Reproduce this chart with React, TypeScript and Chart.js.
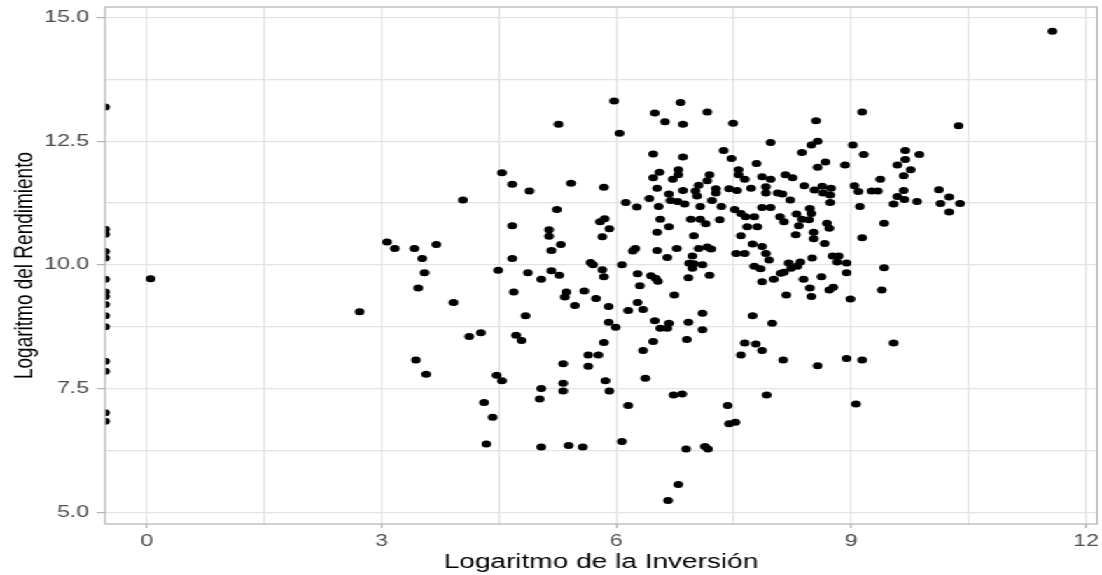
import React, { useEffect, useRef } from "react";
import { Chart, registerables } from "chart.js";

Chart.register(...registerables);

// Log of investment (x) and log of yield (y) for each project
const logInversion = [
  2.72, 3.07, 3.17, 3.42, 3.70, 3.52, 3.55, 3.47, 3.92, 4.04, 4.12, 4.27, 4.49, 4.54, 4.67, 4.89,
  4.67, 4.67, 4.69, 4.84, 4.72, 4.79, 4.87, 5.04, 5.17, 5.27, 5.24, 5.14, 5.14, 5.29, 5.17, 5.42,
  5.84, 5.79, 5.85, 5.91, 5.82, 5.67, 5.70, 5.82, 5.84, 5.36, 5.34, 5.59, 5.47, 5.74, 5.90, 5.90,
  5.84, 3.44, 3.57, 4.47, 4.54, 4.31, 4.42, 4.34, 5.04, 5.02, 5.04, 5.39, 5.57, 5.32, 5.32, 5.32,
  5.64, 5.77, 5.64, 5.86, 5.91, 5.26,
  5.97, 6.04, 6.49, 6.62, 6.82, 6.85, 7.16, 7.49, 6.47, 6.85, 7.37, 7.47, 7.79, 6.55, 6.47, 6.79,
  6.79, 6.72, 7.19, 7.16, 7.56, 7.56, 7.64, 6.52, 6.85, 7.05, 7.01, 7.27, 7.27, 7.44, 7.54, 7.72,
  6.67, 6.69, 6.42, 7.03, 7.22, 6.78, 6.87, 6.12, 6.26, 6.54, 7.07, 7.34, 7.51, 7.59, 7.65, 7.76,
  6.56, 6.67, 6.95, 7.07, 7.14, 7.32, 7.67, 7.80,
  6.52, 6.99, 7.59, 7.74, 6.24, 6.21, 6.52, 6.65, 6.77, 6.97, 7.05, 7.16, 7.21, 7.53, 7.64, 6.07,
  6.27, 6.30, 6.44, 6.50, 6.53, 6.74, 6.93, 6.97, 6.99, 7.10, 6.92, 7.19, 7.76, 7.84, 6.27, 6.15,
  6.34, 5.99, 6.49, 6.56, 6.65, 6.67, 6.92, 7.10, 7.10, 6.90, 6.47, 6.34, 7.74, 7.64, 7.78, 7.59,
  6.37, 6.15, 6.73, 6.84, 7.42, 7.44, 7.52, 6.07, 6.89, 7.13, 7.17, 6.79, 6.66,
  9.14, 8.55, 7.97, 8.57, 8.49, 9.02, 9.16, 8.37, 9.69, 9.69, 9.87, 9.59, 9.76, 9.67, 8.67, 8.57,
  8.92, 7.86, 7.97, 8.16, 8.25, 9.37, 10.12, 7.91, 7.91, 8.06, 8.12, 8.40, 8.53, 8.63, 8.64, 8.74,
  8.73, 9.04, 9.09, 9.26, 9.34, 9.67, 8.22, 8.73, 9.11, 9.54, 9.59, 9.68, 9.84, 10.14, 7.86, 7.97,
  8.09, 8.14, 8.30, 8.37, 8.47, 8.49, 8.46, 8.33, 8.69, 8.72, 9.42,
  9.14, 8.29, 8.52, 8.52, 8.66, 7.86, 7.91, 7.95, 8.20, 8.35, 8.23, 8.14, 8.31, 8.10, 8.50, 8.76,
  8.84, 8.82, 8.94, 8.94, 9.42, 8.01, 7.86, 8.39, 8.62, 8.47, 8.72, 8.77, 8.17, 8.49, 8.99, 9.39,
  7.99, 9.54, 7.86, 8.13, 8.57, 8.94, 9.14, 7.92, 9.06,
  11.57, 10.37, 10.25, 10.39, 10.25, 0.05,
];

const logRendimiento = [
  9.05, 10.46, 10.33, 10.33, 10.41, 10.13, 9.84, 9.53, 9.24, 11.31, 8.55, 8.63, 9.89, 11.86, 11.63, 11.49,
  10.79, 10.13, 9.45, 8.97, 8.58, 8.47, 9.84, 9.71, 9.88, 9.79, 11.12, 10.71, 10.58, 10.41, 10.29, 11.65,
  11.57, 10.87, 10.93, 10.73, 10.57, 10.05, 10.00, 9.90, 9.76, 9.45, 9.35, 9.47, 9.18, 9.32, 9.16, 8.84,
  8.43, 8.08, 7.79, 7.77, 7.66, 7.22, 6.92, 6.38, 7.50, 7.29, 6.32, 6.35, 6.32, 8.00, 7.61, 7.45,
  8.18, 8.18, 7.95, 7.66, 7.45, 12.84,
  13.31, 12.66, 13.07, 12.89, 13.28, 12.84, 13.09, 12.86, 12.24, 12.18, 12.31, 12.15, 12.05, 11.87, 11.76, 11.92,
  11.82, 11.73, 11.82, 11.70, 11.92, 11.82, 11.73, 11.55, 11.50, 11.61, 11.49, 11.54, 11.45, 11.54, 11.50, 11.55,
  11.43, 11.30, 11.34, 11.39, 11.30, 11.28, 11.23, 11.26, 11.17, 11.18, 11.18, 11.18, 11.12, 11.04, 10.97, 10.97,
  10.92, 10.77, 10.92, 10.92, 10.83, 10.91, 10.77, 10.77,
  10.66, 10.59, 10.59, 10.42, 10.33, 10.28, 10.29, 10.15, 10.33, 10.18, 10.33, 10.36, 10.32, 10.23, 10.23, 10.00,
  9.82, 9.58, 9.78, 9.73, 9.67, 9.39, 10.03, 9.93, 10.02, 10.00, 9.74, 9.79, 9.97, 9.92, 9.24, 9.08,
  9.10, 8.74, 8.87, 8.72, 8.72, 8.82, 8.84, 9.02, 8.69, 8.49, 8.45, 8.27, 8.97, 8.42, 8.40, 8.18,
  7.71, 7.16, 7.37, 7.39, 7.16, 6.79, 6.82, 6.43, 6.28, 6.33, 6.28, 5.56, 5.24,
  13.09, 12.91, 12.47, 12.50, 12.42, 12.42, 12.23, 12.27, 12.31, 12.13, 12.23, 12.02, 11.92, 11.80, 12.08, 11.97,
  12.02, 11.78, 11.73, 11.82, 11.76, 11.73, 11.52, 11.58, 11.45, 11.45, 11.43, 11.60, 11.51, 11.59, 11.45, 11.55,
  11.41, 11.60, 11.48, 11.49, 11.49, 11.50, 11.31, 11.26, 11.18, 11.23, 11.38, 11.32, 11.28, 11.24, 11.16, 11.16,
  10.97, 10.87, 11.03, 10.92, 11.14, 11.04, 10.91, 10.79, 10.84, 10.74, 10.84,
  10.55, 10.61, 10.66, 10.53, 10.43, 10.37, 10.23, 10.10, 10.04, 10.06, 9.93, 9.85, 9.97, 9.83, 10.14, 10.18,
  10.18, 10.06, 10.04, 9.84, 9.94, 9.71, 9.66, 9.71, 9.76, 9.53, 9.49, 9.55, 9.39, 9.36, 9.31, 9.49,
  8.82, 8.42, 8.27, 8.08, 7.96, 8.11, 8.08, 7.37, 7.19,
  14.72, 12.81, 11.37, 11.24, 11.07, 9.72,
];

// Projects with zero investment (log = -Inf): drawn on the left edge of the panel
const rendimientoSinInversion = [
  13.19, 10.72, 10.62, 10.27, 10.14, 9.71, 9.45, 9.36, 9.20, 8.97, 8.75, 8.05, 7.85, 7.01, 6.84,
];

const xBreaks = [0, 1.5, 3, 4.5, 6, 7.5, 9, 10.5, 12];
const xLabelled = [0, 3, 6, 9, 12];
const yBreaks = [5, 6.25, 7.5, 8.75, 10, 11.25, 12.5, 13.75, 15];
const yLabelled = [5, 7.5, 10, 12.5, 15];
const xLimits = [-0.532, 12.14];
const yLimits = [4.764, 15.21];

const xTitle = "Logaritmo de la Inversión";
const yTitle = "Logaritmo del Rendimiento";

const CANVAS_W = 787;
const CANVAS_H = 575;
const STRETCH = 1102 / CANVAS_W;

const FONT = "'Liberation Sans', Arial, sans-serif";

const panelFrame = {
  id: "panelFrame",
  afterDraw(chart: any) {
    const { ctx, chartArea: a } = chart;
    ctx.save();
    ctx.strokeStyle = "#b3b3b3";
    ctx.lineWidth = 1.2;
    ctx.strokeRect(a.left, a.top, a.right - a.left, a.bottom - a.top);
    ctx.restore();
  },
};

export default function App() {
  const canvasRef = useRef<HTMLCanvasElement>(null);

  useEffect(() => {
    if (!canvasRef.current) return;
    const points = logInversion.map((x, i) => ({ x, y: logRendimiento[i] }));
    const edgePoints = rendimientoSinInversion.map((y) => ({ x: xLimits[0], y }));

    const isMajor = (list: number[], v: number) => list.some((m) => Math.abs(m - v) < 1e-9);

    const chart = new Chart(canvasRef.current, {
      type: "scatter",
      data: {
        datasets: [
          {
            data: points,
            backgroundColor: "#000000",
            borderWidth: 0,
            pointRadius: 3.5,
            pointHoverRadius: 3.5,
          },
          {
            data: edgePoints,
            backgroundColor: "#000000",
            borderWidth: 0,
            pointRadius: 3.5,
            pointHoverRadius: 3.5,
            clip: 0,
          },
        ],
      },
      options: {
        animation: false,
        responsive: true,
        maintainAspectRatio: false,
        events: [],
        layout: { padding: { top: 7, right: 3, left: 0, bottom: 0 } },
        plugins: {
          legend: { display: false },
          tooltip: { enabled: false },
        },
        scales: {
          x: {
            type: "linear",
            min: xLimits[0],
            max: xLimits[1],
            afterBuildTicks: (s: any) => {
              s.ticks = xBreaks.map((v) => ({ value: v }));
            },
            afterFit: (s: any) => {
              s.height = 51;
              s.paddingLeft = 0;
              s.paddingRight = 0;
            },
            border: { display: false },
            grid: {
              color: "#e3e3e3",
              lineWidth: 1.2,
              tickLength: 4,
              tickColor: (c: any) => (isMajor(xLabelled, c.tick.value) ? "#b3b3b3" : "rgba(0,0,0,0)"),
            },
            ticks: {
              autoSkip: false,
              maxRotation: 0,
              padding: 3.4,
              color: "#4d4d4d",
              font: { family: FONT, size: 16.5, lineHeight: 1.2 },
              callback: (v: any) => (isMajor(xLabelled, Number(v)) ? String(Number(v)) : ""),
            },
            title: {
              display: true,
              text: xTitle,
              color: "#000000",
              font: { family: FONT, size: 20, lineHeight: 1.2 },
              padding: { top: 0, bottom: 0.5 },
            },
          },
          y: {
            type: "linear",
            min: yLimits[0],
            max: yLimits[1],
            afterBuildTicks: (s: any) => {
              s.ticks = yBreaks.map((v) => ({ value: v }));
            },
            afterFit: (s: any) => {
              s.width = 75;
              s.paddingTop = 0;
              s.paddingBottom = 0;
            },
            border: { display: false },
            grid: {
              color: "#e3e3e3",
              lineWidth: 1.2,
              tickLength: 6,
              tickColor: (c: any) => (isMajor(yLabelled, c.tick.value) ? "#b3b3b3" : "rgba(0,0,0,0)"),
            },
            ticks: {
              autoSkip: false,
              padding: 5.4,
              color: "#4d4d4d",
              font: { family: FONT, size: 16.5, lineHeight: 1.2 },
              callback: (v: any) => (isMajor(yLabelled, Number(v)) ? Number(v).toFixed(1) : ""),
            },
            title: {
              display: true,
              text: yTitle,
              color: "#000000",
              font: { family: FONT, size: 19, lineHeight: 1.2 },
              padding: { top: 6.5, bottom: 0 },
            },
          },
        },
      },
      plugins: [panelFrame],
    });

    return () => chart.destroy();
  }, []);

  return (
    <div
      style={{
        position: "fixed",
        left: 0,
        top: 0,
        width: CANVAS_W,
        height: CANVAS_H,
        background: "#ffffff",
        transform: `scaleX(${STRETCH})`,
        transformOrigin: "0 0",
      }}
    >
      <canvas ref={canvasRef} />
    </div>
  );
}
